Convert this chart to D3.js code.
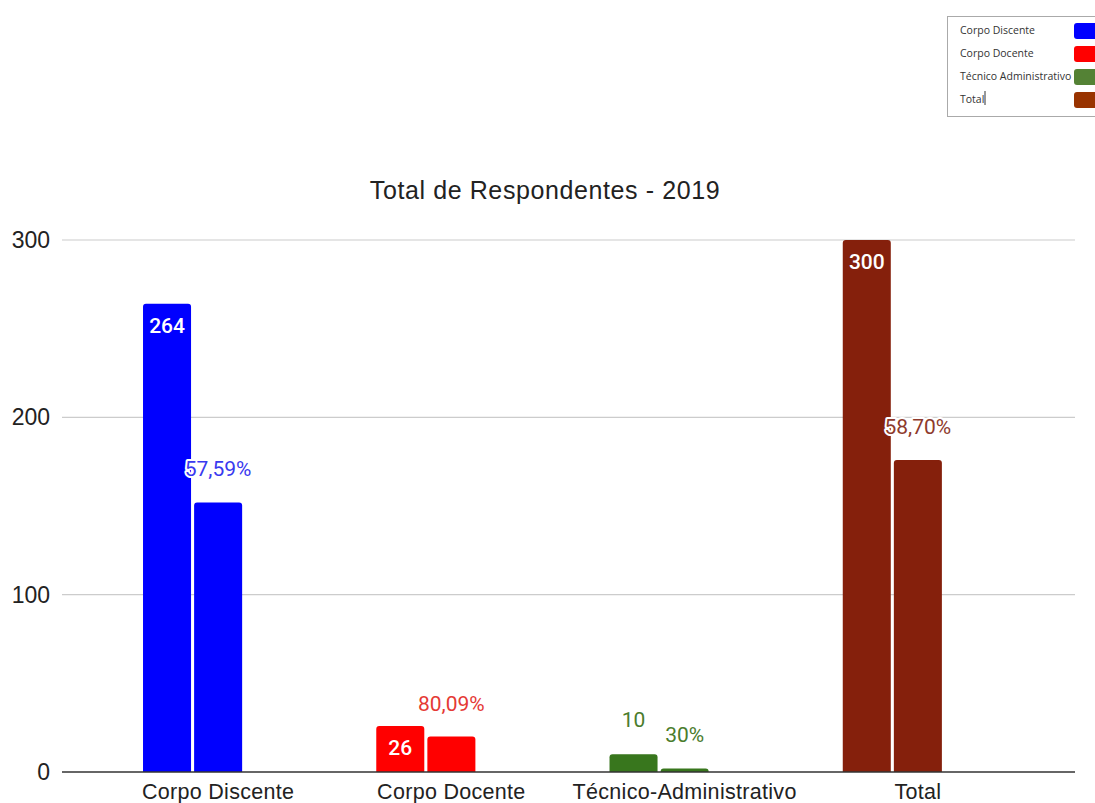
<!DOCTYPE html>
<html><head><meta charset="utf-8">
<script src="https://cdn.jsdelivr.net/npm/d3@7"></script>
<style>
body{margin:0;background:#fff;}
svg{display:block;font-family:Roboto,Arial,sans-serif;}
</style></head>
<body><svg id="c" width="1095" height="803"></svg>
<script>
const categories = ["Corpo Discente","Corpo Docente","Técnico-Administrativo","Total"];
const totals = [264, 26, 10, 300];
const respondents = [152, 20, 2, 176];
const percentLabels = ["57,59%","80,09%","30%","58,70%"];
const barColors = ["#0000ff","#ff0000","#38761d","#85200c"];
const labelColors = ["#3a3aef","#e53935","#4a7c2c","#8e3a2c"];
const yTicks = [0,100,200,300];
const legendLabels = ["Corpo Discente","Corpo Docente","Técnico Administrativo","Total"];
const legendColors = ["#0000ff","#ff0000","#548235","#993300"];

const ARIAL = "'Liberation Sans',Arial,sans-serif";
const svg = d3.select("#c");
const y = d3.scaleLinear().domain([0,300]).range([772,240]);
const x0 = d3.scaleBand().domain(categories).range([101.5,1034.5]).paddingInner(0.356).paddingOuter(0.178);
const x1 = d3.scaleBand().domain(["a","b","c"]).range([0,x0.bandwidth()]).paddingInner(0.06);

// gridlines
svg.append("g").selectAll("line").data(yTicks.filter(d=>d>0)).join("line")
  .attr("x1",62).attr("x2",1075).attr("y1",d=>y(d)).attr("y2",d=>y(d))
  .attr("stroke","#cccccc").attr("stroke-width",1.2);
// y labels
svg.append("g").selectAll("text").data(yTicks).join("text")
  .attr("x",50).attr("y",d=>y(d)+8).attr("text-anchor","end")
  .attr("font-family",ARIAL).attr("font-size",23).attr("fill","#222").text(d=>d);

// title
svg.append("text").attr("x",545).attr("y",199).attr("text-anchor","middle")
  .attr("font-family",ARIAL).attr("font-size",25).attr("letter-spacing",0.6)
  .attr("fill","#222").text("Total de Respondentes - 2019");

function roundTop(xp,yp,w,h,r){
  r=Math.min(r,h);
  return `M${xp},${yp+h}V${yp+r}Q${xp},${yp} ${xp+r},${yp}H${xp+w-r}Q${xp+w},${yp} ${xp+w},${yp+r}V${yp+h}Z`;
}

const g = svg.append("g");
categories.forEach((c,i)=>{
  const bx = x0(c);
  const xa = bx + x1("a"), w = x1.bandwidth();
  g.append("path").attr("d",roundTop(xa,y(totals[i]),w,y(0)-y(totals[i]),3)).attr("fill",barColors[i]);
  const xb = bx + x1("b");
  g.append("path").attr("d",roundTop(xb,y(respondents[i]),w,y(0)-y(respondents[i]),3)).attr("fill",barColors[i]);
  const h = y(0)-y(totals[i]);
  if(h>30){
    g.append("text").attr("x",xa+w/2).attr("y",y(totals[i])+29).attr("text-anchor","middle")
      .attr("font-size",21).attr("font-weight",500).attr("fill","#fff").text(totals[i]);
  } else {
    g.append("text").attr("x",xa+w/2).attr("y",y(totals[i])-27).attr("text-anchor","middle")
      .attr("font-size",21).attr("fill",labelColors[i]).text(totals[i]);
  }
  g.append("text").attr("x",xb+w/2).attr("y",y(respondents[i])-26).attr("text-anchor","middle")
    .attr("font-size",21).attr("fill",labelColors[i])
    .attr("stroke","#fff").attr("stroke-width",4).attr("paint-order","stroke")
    .attr("stroke-linejoin","round").text(percentLabels[i]);
  svg.append("text").attr("x",bx+x0.bandwidth()/2).attr("y",799).attr("text-anchor","middle")
    .attr("font-family",ARIAL).attr("font-size",21.5).attr("letter-spacing",0.3)
    .attr("fill","#222").text(c);
});

// baseline
svg.append("line").attr("x1",62).attr("x2",1075).attr("y1",y(0)).attr("y2",y(0))
  .attr("stroke","#333").attr("stroke-width",1.5);

// legend
const lg = svg.append("g");
lg.append("rect").attr("x",947.5).attr("y",16.5).attr("width",160).attr("height",100)
  .attr("fill","#fff").attr("stroke","#aaa");
legendLabels.forEach((t,i)=>{
  const ly = 31 + i*23;
  lg.append("text").attr("x",960).attr("y",ly+3).attr("font-size",10.5)
    .attr("font-family","'Open Sans','Liberation Sans',sans-serif").attr("fill","#333").text(t);
  lg.append("rect").attr("x",1074).attr("y",ly-8).attr("width",30).attr("height",16).attr("rx",3)
    .attr("fill",legendColors[i]);
});
lg.append("line").attr("x1",985).attr("x2",985).attr("y1",91).attr("y2",105).attr("stroke","#333");
</script></body></html>
